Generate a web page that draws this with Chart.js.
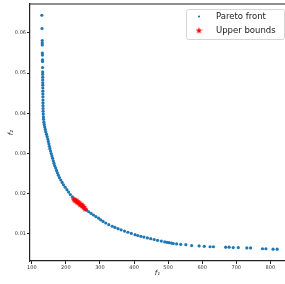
<!DOCTYPE html>
<html>
<head>
<meta charset="utf-8">
<script src="https://cdn.jsdelivr.net/npm/chart.js@4.4.1/dist/chart.umd.min.js"></script>
<style>
  html, body { margin: 0; padding: 0; background: #fff; }
</style>
</head>
<body>
<canvas id="myChart" width="285" height="284"></canvas>
<script>
// Pareto front points (f1, f2)
const paretoF1 = [129.4, 130, 130.6, 130.6, 130.8, 131, 131.2, 131.4, 131.5, 131.6,
  131.8, 131.9, 132, 132, 132.1, 132.2, 132.3, 132.4, 132.5, 132.6, 132.7, 132.8, 132.9, 133,
  133.2, 133.6, 134, 134.5, 135.5, 136.5, 138, 139.5, 141, 143, 145, 147, 148.5, 150, 151.5,
  153, 155, 157, 159, 161, 163, 165, 167, 170, 172.5, 175, 178, 181, 185, 189, 193, 198,
  203, 208, 213, 219, 224, 230, 236, 242, 248, 255, 261, 267, 274, 281, 288, 296, 302, 309,
  317, 326, 336, 344, 353, 362, 372, 382, 392, 403, 411, 420, 429, 439, 449, 459, 469, 480,
  490, 497, 503, 510,
  515, 525, 537, 552, 569, 591, 606, 623, 633, 669, 679, 691, 706, 731, 742, 777, 787, 808, 820];
const paretoF2 = [0.0644, 0.0611, 0.0581, 0.0575, 0.0570, 0.0550, 0.0545, 0.0533, 0.0529, 0.0514,
  0.0503, 0.0497, 0.0490, 0.0483, 0.0476, 0.0470, 0.0463, 0.0455, 0.0448, 0.0441, 0.0433, 0.0426, 0.0419, 0.0412,
  0.0405, 0.0398, 0.0391, 0.0385, 0.0378, 0.0372, 0.0366, 0.0360, 0.0354, 0.0348, 0.0342, 0.0336, 0.0330, 0.0324, 0.0318,
  0.0312, 0.0306, 0.0300, 0.0294, 0.0288, 0.0282, 0.0276, 0.0270, 0.0264, 0.0258, 0.0252, 0.0246, 0.0240, 0.0234, 0.0228, 0.0222, 0.0216,
  0.0210, 0.0204, 0.0198, 0.0192, 0.0187, 0.0182, 0.0177, 0.0172, 0.0168, 0.0163, 0.0159, 0.0155, 0.0151, 0.0147, 0.0143, 0.0139, 0.0135, 0.0131,
  0.0127, 0.0123, 0.0119, 0.0116, 0.0113, 0.0110, 0.0107, 0.0104, 0.0101, 0.0098, 0.0096, 0.0094, 0.0092, 0.0090, 0.0088, 0.0086, 0.0084, 0.0082,
  0.0080, 0.0079, 0.0078, 0.0077,
  0.0076, 0.0075, 0.0074, 0.0073, 0.0071, 0.0070, 0.0069, 0.0068, 0.0068, 0.0067, 0.0067, 0.0066, 0.0066, 0.0065, 0.0065, 0.0063, 0.0063, 0.0062, 0.0062];

// upper bounds (red stars)
const boundF1 = [223, 225, 227, 229, 231, 233, 235, 237, 239, 241, 243, 245, 247, 249, 251, 253, 255, 257];
const boundF2 = [0.0186, 0.0184, 0.0182, 0.0185, 0.0180, 0.0178, 0.0181, 0.0176, 0.0178, 0.0173, 0.0172, 0.0174, 0.0169, 0.0171, 0.0166, 0.0167, 0.0163, 0.0161];

const xTicks = [100, 200, 300, 400, 500, 600, 700, 800];
const yTicks = [0.01, 0.02, 0.03, 0.04, 0.05, 0.06];
const yTickLabels = ['0.01', '0.02', '0.03', '0.04', '0.05', '0.06'];

const blue = '#1f77b4';
const red = '#ff0000';

// filled star like matplotlib '*'
function makeStar(size, color) {
  const c = document.createElement('canvas');
  c.width = size; c.height = size;
  const g = c.getContext('2d');
  const cx = size / 2, cy = size / 2, R = size / 2, r = R * 0.42;
  g.beginPath();
  for (let i = 0; i < 10; i++) {
    const rad = i % 2 === 0 ? R : r;
    const a = -Math.PI / 2 + i * Math.PI / 5;
    const px = cx + rad * Math.cos(a), py = cy + rad * Math.sin(a);
    if (i === 0) g.moveTo(px, py); else g.lineTo(px, py);
  }
  g.closePath();
  g.fillStyle = color;
  g.fill();
  return c;
}
const starImg = makeStar(6, red);
const legendStar = makeStar(7, red);

const frameAndLegend = {
  id: 'frameAndLegend',
  afterDraw(chart) {
    const ctx = chart.ctx;
    const a = chart.chartArea;
    ctx.save();
    // top spine
    ctx.strokeStyle = '#222';
    ctx.lineWidth = 1.2;
    ctx.beginPath();
    ctx.moveTo(a.left, a.top);
    ctx.lineTo(a.right, a.top);
    ctx.stroke();

    // legend box
    const bx = 186.5, by = 9.5, bw = 98, bh = 30, rr = 2;
    ctx.beginPath();
    ctx.moveTo(bx + rr, by);
    ctx.lineTo(bx + bw - rr, by);
    ctx.quadraticCurveTo(bx + bw, by, bx + bw, by + rr);
    ctx.lineTo(bx + bw, by + bh - rr);
    ctx.quadraticCurveTo(bx + bw, by + bh, bx + bw - rr, by + bh);
    ctx.lineTo(bx + rr, by + bh);
    ctx.quadraticCurveTo(bx, by + bh, bx, by + bh - rr);
    ctx.lineTo(bx, by + rr);
    ctx.quadraticCurveTo(bx, by, bx + rr, by);
    ctx.closePath();
    ctx.fillStyle = 'rgba(255,255,255,0.85)';
    ctx.fill();
    ctx.strokeStyle = '#d5d5d5';
    ctx.lineWidth = 1;
    ctx.stroke();

    ctx.fillStyle = blue;
    ctx.beginPath();
    ctx.arc(199, 16.5, 1.1, 0, Math.PI * 2);
    ctx.fill();
    ctx.drawImage(legendStar, 199 - 3.5, 30.7 - 3.5);

    ctx.fillStyle = '#222';
    ctx.font = '8.5px "DejaVu Sans"';
    ctx.textBaseline = 'middle';
    ctx.textAlign = 'left';
    ctx.fillText('Pareto front', 216, 17);
    ctx.fillText('Upper bounds', 216, 31);
    ctx.restore();
  }
};

const ctx = document.getElementById('myChart');
new Chart(ctx, {
  type: 'scatter',
  data: {
    datasets: [
      {
        label: 'Pareto front',
        data: paretoF1.map((x, i) => ({ x: x, y: paretoF2[i] })),
        backgroundColor: blue,
        borderWidth: 0,
        pointRadius: 1.6,
        order: 2
      },
      {
        label: 'Upper bounds',
        data: boundF1.map((x, i) => ({ x: x, y: boundF2[i] })),
        pointStyle: starImg,
        backgroundColor: red,
        order: 1
      }
    ]
  },
  options: {
    responsive: false,
    animation: false,
    events: [],
    layout: { autoPadding: false, padding: { top: 4, right: 0, left: 0, bottom: 0 } },
    plugins: {
      legend: { display: false },
      tooltip: { enabled: false }
    },
    scales: {
      x: {
        type: 'linear',
        min: 94.7,
        max: 843,
        afterBuildTicks: s => { s.ticks = xTicks.map(v => ({ value: v })); },
        afterFit: s => { s.height = 23; s.paddingLeft = 0; s.paddingRight = 0; },
        grid: { drawOnChartArea: false, drawTicks: true, tickLength: 3, tickColor: '#222' },
        border: { color: '#222', width: 1.2 },
        ticks: {
          color: '#333', padding: 1, maxRotation: 0,
          font: { family: 'DejaVu Sans', size: 5 },
          callback: v => String(v)
        },
        title: {
          display: true, text: 'f₁', color: '#222',
          font: { family: 'DejaVu Sans', size: 7, style: 'italic' },
          padding: { top: 0, bottom: 7 }
        }
      },
      y: {
        type: 'linear',
        min: 0.00325,
        max: 0.0672,
        afterBuildTicks: s => { s.ticks = yTicks.map(v => ({ value: v })); },
        afterFit: s => { s.width = 30; s.paddingTop = 0; s.paddingBottom = 0; },
        grid: { drawOnChartArea: false, drawTicks: true, tickLength: 3, tickColor: '#222' },
        border: { color: '#222', width: 1.2 },
        ticks: {
          color: '#333', padding: 1,
          font: { family: 'DejaVu Sans', size: 5 },
          callback: (v) => yTickLabels[yTicks.indexOf(Math.round(v * 100) / 100)] ?? ''
        },
        title: {
          display: true, text: 'f₂', color: '#222',
          font: { family: 'DejaVu Sans', size: 7, style: 'italic' },
          padding: { top: 7, bottom: 0 }
        }
      }
    }
  },
  plugins: [frameAndLegend]
});
</script>
</body>
</html>
